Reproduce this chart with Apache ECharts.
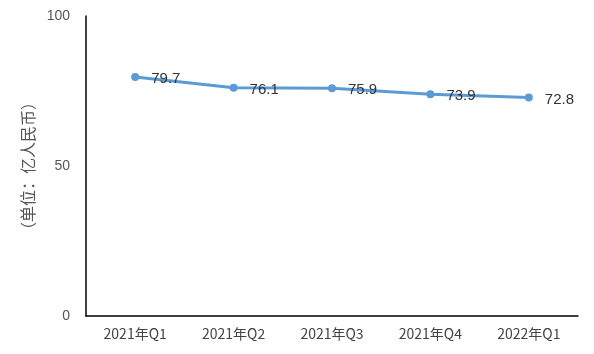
<!DOCTYPE html>
<html>
    <head>
        <meta charset="utf-8">
        <script src="https://cdn.jsdelivr.net/npm/echarts@6/dist/echarts.min.js"></script>
        <style>
            body { margin: 0; background: #fff; }
            #main { width: 594px; height: 354px; }
        </style>
    </head>
    <body>
        <div id="main"></div>
        <script>
        const quarters = ['2021年Q1', '2021年Q2', '2021年Q3', '2021年Q4', '2022年Q1'];
        const revenue = [79.7, 76.1, 75.9, 73.9, 72.8];

        const chart = echarts.init(document.getElementById('main'));
        chart.setOption({
            animation: false,
            grid: { left: 86, top: 16, right: 16, bottom: 38 },
            xAxis: {
                type: 'category',
                data: quarters,
                axisLine: { lineStyle: { color: '#000', width: 1.5 } },
                axisTick: { show: false },
                axisLabel: { color: '#444', fontSize: 14, margin: 11, fontFamily: 'Noto Sans CJK SC' }
            },
            yAxis: {
                type: 'value',
                min: 0,
                max: 100,
                interval: 50,
                name: '（单位：亿人民币）',
                nameLocation: 'middle',
                nameRotate: 90,
                nameGap: 48,
                nameTextStyle: { color: '#555', fontSize: 16, fontFamily: 'Noto Sans CJK SC' },
                axisLine: { show: true, lineStyle: { color: '#000', width: 1.5 } },
                axisTick: { show: false },
                splitLine: { show: false },
                axisLabel: { color: '#555', fontSize: 14, margin: 16 }
            },
            series: [{
                type: 'line',
                data: revenue,
                symbol: 'circle',
                symbolSize: 8,
                lineStyle: { color: '#5b9bd5', width: 3 },
                itemStyle: { color: '#5b9bd5' },
                label: {
                    show: true,
                    position: 'right',
                    distance: 12,
                    color: '#333',
                    fontSize: 15,
                    offset: [0, 2]
                }
            }]
        });
        </script>
    </body>
</html>
